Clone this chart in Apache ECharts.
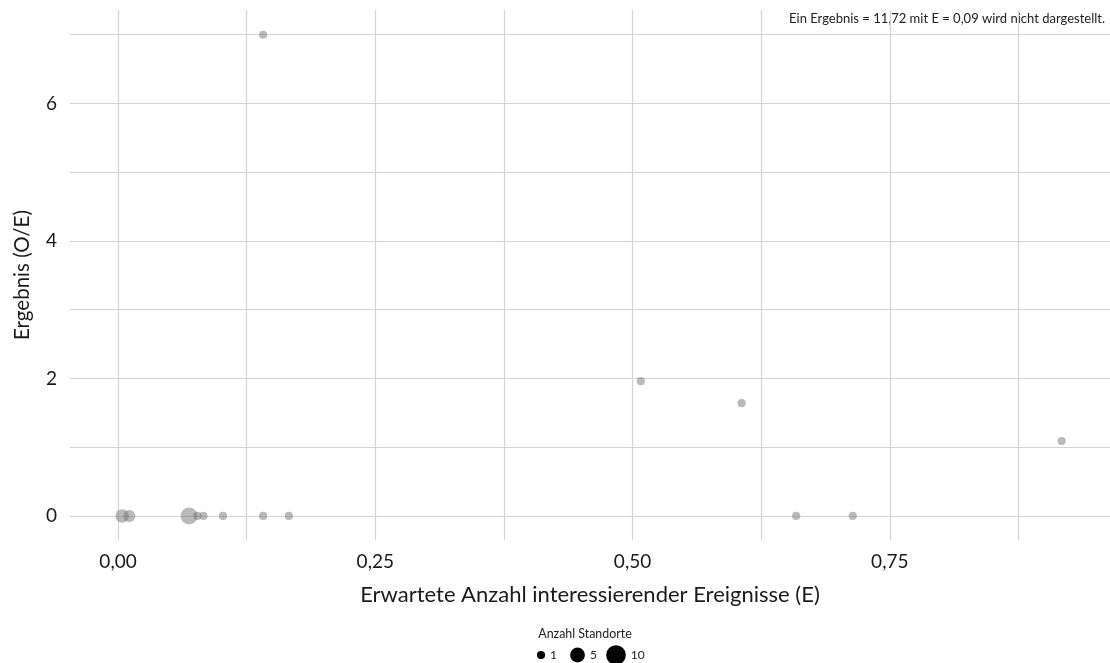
<!DOCTYPE html>
<html>
<head>
<meta charset="utf-8">
<script src="https://cdn.jsdelivr.net/npm/echarts@6/dist/echarts.min.js"></script>
<style>html,body{margin:0;padding:0;background:#fff}#c{width:1110px;height:663px}</style>
</head>
<body>
<div id="c"></div>
<script>
// Data
const expectedE = [0.004, 0.011, 0.069, 0.077, 0.083, 0.102, 0.141, 0.166, 0.141, 0.508, 0.606, 0.659, 0.714, 0.917];
const resultOE  = [0, 0, 0, 0, 0, 0, 0, 0, 7.0, 1.96, 1.64, 0, 0, 1.09];
const nSites    = [4, 3, 7, 1, 1, 1, 1, 1, 1, 1, 1, 1, 1, 1];
const xTicks = [0, 0.25, 0.5, 0.75];
const xMinorTicks = [0.125, 0.375, 0.625, 0.875];
const yTicks = [0, 2, 4, 6];
const yMinorTicks = [1, 3, 5, 7];
const legendSizes = [1, 5, 10];
const xTitle = 'Erwartete Anzahl interessierender Ereignisse (E)';
const yTitle = 'Ergebnis (O/E)';
const note = 'Ein Ergebnis = 11,72 mit E = 0,09 wird nicht dargestellt.';
const legendTitle = 'Anzahl Standorte';

const FONT = 'Lato, "Open Sans", sans-serif';
const sizeFn = n => 2.9 + 5.3 * Math.sqrt(n);
const fmt2 = v => v.toFixed(2).replace('.', ',');

const pts = expectedE.map((x, i) => [x, resultOE[i], nSites[i]]);

const gridLine = { color: '#d4d4d4', width: 1.2, type: 'solid' };
const markLines = [
  ...xTicks.map(v => ({ xAxis: v })),
  ...xMinorTicks.map(v => ({ xAxis: v })),
  ...yTicks.map(v => ({ yAxis: v })),
  ...yMinorTicks.map(v => ({ yAxis: v }))
];

// Legend (size key) as graphics
const legendGraphics = [];
const legendX = [541, 577.5, 616];
legendSizes.forEach((n, i) => {
  const d = sizeFn(n);
  legendGraphics.push({ type: 'circle', shape: { cx: legendX[i], cy: 655, r: d / 2 }, style: { fill: '#000' } });
  legendGraphics.push({ type: 'text', x: legendX[i] + d / 2 + 5, y: 655, style: { text: String(n), font: '12px ' + FONT, fill: '#222', verticalAlign: 'middle', align: 'left' } });
});
legendGraphics.push({ type: 'text', x: 585, y: 634, style: { text: legendTitle, font: '12.4px ' + FONT, fill: '#222', align: 'center', verticalAlign: 'middle' } });
legendGraphics.push({ type: 'text', x: 1105, y: 19, style: { text: note, font: '13px ' + FONT, fill: '#222', align: 'right', verticalAlign: 'middle' } });

const chart = echarts.init(document.getElementById('c'), null, { renderer: 'canvas' });
chart.setOption({
  animation: false,
  backgroundColor: '#fff',
  grid: { left: 70, right: 0, top: 10, bottom: 123, containLabel: false },
  xAxis: {
    type: 'value', min: -0.0467, max: 0.964,
    axisLine: { show: false }, axisTick: { show: false }, splitLine: { show: false },
    axisLabel: { customValues: xTicks, formatter: v => fmt2(v), fontFamily: FONT, fontSize: 19, color: '#1a1a1a', margin: 12 },
    name: xTitle, nameLocation: 'middle', nameGap: 44,
    nameTextStyle: { fontFamily: FONT, fontSize: 22, color: '#1a1a1a' }
  },
  yAxis: {
    type: 'value', min: -0.35, max: 7.36,
    axisLine: { show: false }, axisTick: { show: false }, splitLine: { show: false },
    axisLabel: { customValues: yTicks, formatter: v => String(v), fontFamily: FONT, fontSize: 19, color: '#1a1a1a', margin: 13 },
    name: yTitle, nameLocation: 'middle', nameGap: 37, nameRotate: 90,
    nameTextStyle: { fontFamily: FONT, fontSize: 20.5, color: '#1a1a1a' }
  },
  series: [{
    type: 'scatter',
    data: pts,
    symbolSize: d => sizeFn(d[2]),
    itemStyle: { color: 'rgba(110,110,110,0.6)' },
    z: 5,
    markLine: {
      silent: true, symbol: ['none', 'none'], label: { show: false }, precision: 6,
      lineStyle: gridLine, data: markLines, z: 1, animation: false
    }
  }],
  graphic: legendGraphics
});
</script>
</body>
</html>
